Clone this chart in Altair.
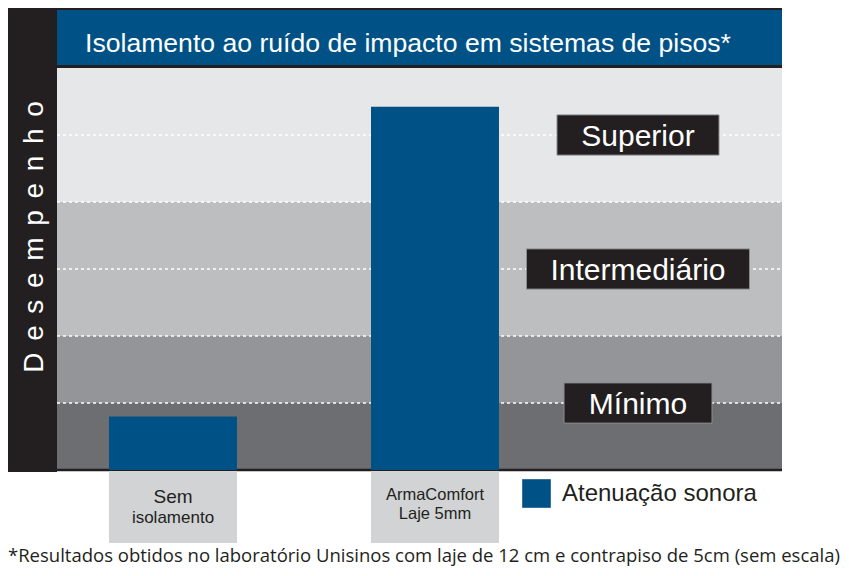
import altair as alt
import pandas as pd

# ---------------- data ----------------
CATEGORIES = ["Sem isolamento", "ArmaComfort Laje 5mm"]
VALUES = [0.8, 5.42]
SERIES = "Atenuação sonora"
LINE1 = ["Sem", "ArmaComfort"]
LINE2 = ["isolamento", "Laje 5mm"]
LEVELS = ["Mínimo", "Intermediário", "Superior"]
LEVEL_Y = [1, 3, 5]
BAND_LO = [0, 1, 2, 4]
BAND_HI = [1, 2, 4, 6]
GRID = [1, 2, 3, 4, 5]
TITLE = "Isolamento ao ruído de impacto em sistemas de pisos*"
YLABEL = "Desempenho"
NOTE = "*Resultados obtidos no laboratório Unisinos com laje de 12 cm e contrapiso de 5cm (sem escala)"

# ---------------- style ----------------
BAND_COLORS = ["#6d6e71", "#939598", "#bcbec0", "#e6e7e8"]
BLUE = "#005286"
DARK = "#231f20"
LABEL_BG = "#d1d3d4"
BOX_W = [148, 223, 162]
W, H = 725, 402
FONT = "Liberation Sans"

bars = pd.DataFrame({"cat": CATEGORIES, "value": VALUES, "serie": SERIES,
                     "l1": LINE1, "l2": LINE2})
bands = pd.DataFrame({"lo": BAND_LO, "hi": BAND_HI, "fill": BAND_COLORS})
grid = pd.DataFrame({"y": GRID})
levels = pd.DataFrame({"name": LEVELS, "y": LEVEL_Y})
one = pd.DataFrame({"k": [0]})

yscale = alt.Scale(domain=[0, 6], nice=False, zero=True)
xscale = alt.Scale(domain=CATEGORIES, range=[0, 494],
                   paddingInner=0.5115, paddingOuter=0.1985)

layers = []

# background performance bands
layers.append(alt.Chart(bands).mark_rect().encode(
    x=alt.value(0), x2=alt.value(W),
    y=alt.Y("lo:Q", scale=yscale, axis=None), y2="hi:Q",
    fill=alt.Fill("fill:N", scale=None)))

# dotted white lines
layers.append(alt.Chart(grid).mark_rule(color="white", strokeDash=[3, 3],
                                        strokeWidth=1.5).encode(
    x=alt.value(0), x2=alt.value(W),
    y=alt.Y("y:Q", scale=yscale, axis=None)))

# level label boxes and texts
for name, w in zip(LEVELS, BOX_W):
    base = alt.Chart(levels).transform_filter(alt.datum.name == name)
    layers.append(base.transform_calculate(lo="datum.y - 0.3", hi="datum.y + 0.3")
                  .mark_rect(fill=DARK, stroke="#8a8c8e", strokeWidth=1).encode(
        x=alt.value(581 - w / 2), x2=alt.value(581 + w / 2),
        y=alt.Y("lo:Q", scale=yscale, axis=None), y2="hi:Q"))
layers.append(alt.Chart(levels).mark_text(color="white", fontSize=30, font=FONT,
                                          align="center", baseline="middle", dy=2).encode(
    x=alt.value(581), y=alt.Y("y:Q", scale=yscale, axis=None), text="name:N"))

# bottom dark line
layers.append(alt.Chart(one).mark_rule(color=DARK, strokeWidth=2.5).encode(
    x=alt.value(0), x2=alt.value(W), y=alt.value(H)))

# bars
layers.append(alt.Chart(bars).mark_bar().encode(
    x=alt.X("cat:N", scale=xscale, axis=None),
    y=alt.Y("value:Q", scale=yscale, axis=None),
    color=alt.Color("serie:N", scale=alt.Scale(domain=[SERIES], range=[BLUE]),
                    legend=alt.Legend(title=None, orient="none", legendX=465, legendY=411,
                                      symbolType="square", symbolSize=784,
                                      symbolStrokeColor="#3a6f9a", symbolStrokeWidth=1,
                                      labelFontSize=24, labelFont=FONT, labelColor=DARK,
                                      labelOffset=11, labelLimit=400, padding=0))))

# category label boxes
layers.append(alt.Chart(bars).mark_rect(fill=LABEL_BG).encode(
    x=alt.X("cat:N", scale=xscale, axis=None),
    y=alt.value(H + 1), y2=alt.value(H + 73)))

# category label texts
txt_specs = [(0, "l1", 19, 435), (0, "l2", 17, 455), (1, "l1", 16.5, 432), (1, "l2", 16.5, 451)]
for i, field, fs, ypix in txt_specs:
    layers.append(alt.Chart(bars).transform_filter(alt.datum.cat == CATEGORIES[i])
                  .mark_text(color=DARK, fontSize=fs, font=FONT, align="center",
                             baseline="alphabetic").encode(
        x=alt.X("cat:N", scale=xscale, axis=None), y=alt.value(ypix),
        text=f"{field}:N"))

# frame decorations
layers.append(alt.Chart(one).mark_rect(fill=DARK).encode(
    x=alt.value(-49), x2=alt.value(0), y=alt.value(-60), y2=alt.value(404)))
layers.append(alt.Chart(one).mark_rect(fill=DARK).encode(
    x=alt.value(-49), x2=alt.value(W), y=alt.value(-60), y2=alt.value(0)))
layers.append(alt.Chart(one).mark_rect(fill=BLUE).encode(
    x=alt.value(0), x2=alt.value(W), y=alt.value(-58), y2=alt.value(-3)))

# title
layers.append(alt.Chart(one).mark_text(color="white", fontSize=26.6, font=FONT,
                                       align="left", baseline="alphabetic").encode(
    x=alt.value(28), y=alt.value(-16), text=alt.value(TITLE)))

# vertical axis label (spaced letters)
spaced = "\u2005\u2006".join(list(YLABEL))
layers.append(alt.Chart(one).mark_text(color="white", fontSize=28, font=FONT,
                                       align="center", baseline="alphabetic",
                                       angle=270).encode(
    x=alt.value(-14), y=alt.value(169), text=alt.value(spaced)))

# footnote
layers.append(alt.Chart(one).mark_text(color=DARK, fontSize=18.5, font="Open Sans",
                                       align="left", baseline="alphabetic").encode(
    x=alt.value(-49), y=alt.value(494), text=alt.value(NOTE)))

chart = alt.layer(*layers).properties(
    width=W, height=H,
    padding={"left": 49, "top": 60, "right": 59, "bottom": 98},
    autosize=alt.AutoSizeParams(type="none"),
    background="white",
).configure_view(stroke=None)

chart.save("out.html", embed_options={"renderer": "svg", "actions": False})
